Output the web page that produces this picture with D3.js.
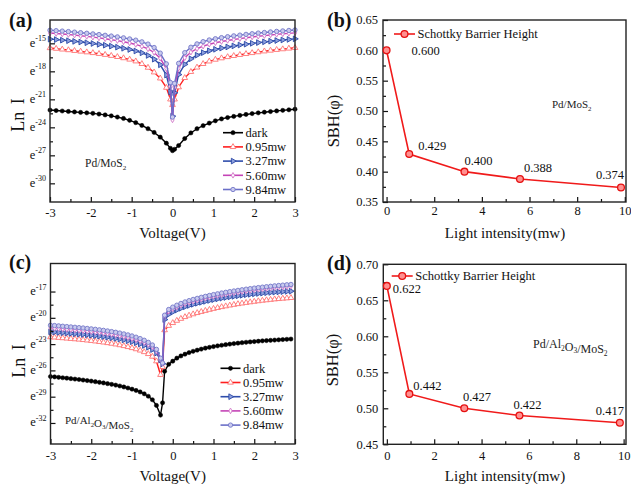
<!DOCTYPE html>
<html><head><meta charset="utf-8">
<script src="https://cdn.jsdelivr.net/npm/d3@7"></script>
<style>body{margin:0;background:#fff}svg{display:block}</style>
</head><body><svg id="c" width="631" height="484"></svg>
<script>
// ---------------- DATA ----------------
const seriesNames = ["dark","0.95mw","3.27mw","5.60mw","9.84mw"];

// Panel (a) Pd/MoS2
const voltageA = [-3.00,-2.85,-2.70,-2.55,-2.40,-2.25,-2.10,-1.95,-1.80,-1.65,-1.50,-1.35,-1.20,-1.05,-0.90,-0.75,-0.60,-0.45,-0.30,-0.15,-0.05,0,0.05,0.15,0.30,0.45,0.60,0.75,0.90,1.05,1.20,1.35,1.50,1.65,1.80,1.95,2.10,2.25,2.40,2.55,2.70,2.85,3.00];
const darkA = [-22.15,-22.20,-22.25,-22.30,-22.35,-22.40,-22.45,-22.50,-22.58,-22.67,-22.77,-22.90,-23.05,-23.25,-23.50,-23.80,-24.15,-24.55,-25.05,-25.70,-26.25,-26.50,-26.35,-25.95,-25.20,-24.60,-24.15,-23.82,-23.55,-23.30,-23.10,-22.95,-22.83,-22.72,-22.62,-22.53,-22.45,-22.38,-22.31,-22.24,-22.18,-22.12,-22.06];
const mw095A = [-15.50,-15.57,-15.65,-15.72,-15.80,-15.87,-15.95,-16.03,-16.12,-16.22,-16.33,-16.45,-16.58,-16.73,-16.92,-17.20,-17.60,-18.10,-18.75,-19.75,-21.00,-21.60,-21.00,-19.70,-18.70,-18.05,-17.58,-17.20,-16.93,-16.74,-16.59,-16.46,-16.34,-16.23,-16.13,-16.03,-15.94,-15.85,-15.77,-15.69,-15.62,-15.55,-15.48];
const mw327A = [-14.55,-14.60,-14.66,-14.72,-14.79,-14.86,-14.94,-15.02,-15.11,-15.20,-15.30,-15.41,-15.53,-15.66,-15.82,-16.02,-16.30,-16.70,-17.30,-18.40,-20.20,-22.80,-20.30,-18.35,-17.25,-16.66,-16.27,-16.00,-15.80,-15.64,-15.51,-15.39,-15.28,-15.18,-15.09,-15.00,-14.92,-14.84,-14.77,-14.70,-14.64,-14.58,-14.52];
const mw560A = [-13.90,-13.95,-14.00,-14.06,-14.12,-14.19,-14.26,-14.34,-14.42,-14.51,-14.61,-14.71,-14.83,-14.96,-15.12,-15.32,-15.60,-15.98,-16.60,-17.70,-19.60,-23.20,-19.70,-17.65,-16.55,-15.95,-15.58,-15.30,-15.10,-14.94,-14.81,-14.69,-14.59,-14.49,-14.40,-14.32,-14.24,-14.17,-14.10,-14.04,-13.98,-13.93,-13.88];
const mw984A = [-13.60,-13.64,-13.69,-13.74,-13.80,-13.86,-13.92,-13.99,-14.06,-14.14,-14.22,-14.31,-14.41,-14.53,-14.66,-14.84,-15.08,-15.45,-16.05,-17.20,-19.20,-22.90,-19.30,-17.15,-16.00,-15.42,-15.06,-14.82,-14.64,-14.51,-14.39,-14.29,-14.20,-14.12,-14.04,-13.97,-13.90,-13.84,-13.78,-13.72,-13.67,-13.62,-13.57];

// Panel (c) Pd/Al2O3/MoS2
const voltageC = [-3.0,-2.9,-2.8,-2.7,-2.6,-2.5,-2.4,-2.3,-2.2,-2.1,-2.0,-1.9,-1.8,-1.7,-1.6,-1.5,-1.4,-1.3,-1.2,-1.1,-1.0,-0.9,-0.8,-0.7,-0.6,-0.5,-0.4,-0.3,-0.25,-0.2,-0.1,0.0,0.1,0.2,0.3,0.4,0.5,0.6,0.7,0.8,0.9,1.0,1.1,1.2,1.3,1.4,1.5,1.6,1.7,1.8,1.9,2.0,2.1,2.2,2.3,2.4,2.5,2.6,2.7,2.8,2.9];
const darkC = [-26.70,-26.74,-26.79,-26.84,-26.89,-26.94,-26.99,-27.04,-27.10,-27.16,-27.22,-27.29,-27.36,-27.43,-27.51,-27.59,-27.68,-27.78,-27.89,-28.01,-28.14,-28.29,-28.46,-28.67,-28.95,-29.35,-30.00,-31.10,-29.70,-26.10,-25.30,-24.95,-24.60,-24.35,-24.15,-23.97,-23.82,-23.69,-23.57,-23.46,-23.37,-23.28,-23.20,-23.13,-23.06,-23.00,-22.94,-22.89,-22.84,-22.79,-22.75,-22.71,-22.67,-22.63,-22.60,-22.57,-22.54,-22.51,-22.48,-22.45,-22.42];
const mw095C = [-22.20,-22.23,-22.27,-22.31,-22.35,-22.39,-22.43,-22.47,-22.52,-22.57,-22.62,-22.68,-22.74,-22.80,-22.87,-22.94,-23.02,-23.11,-23.21,-23.32,-23.44,-23.57,-23.72,-23.90,-24.12,-24.42,-24.95,-26.50,-25.60,-21.40,-20.90,-20.58,-20.32,-20.10,-19.90,-19.73,-19.58,-19.44,-19.31,-19.19,-19.07,-18.96,-18.86,-18.76,-18.67,-18.58,-18.50,-18.42,-18.35,-18.28,-18.21,-18.15,-18.09,-18.03,-17.98,-17.93,-17.88,-17.84,-17.80,-17.76,-17.72];
const mw327C = [-21.60,-21.63,-21.67,-21.70,-21.74,-21.78,-21.82,-21.86,-21.90,-21.94,-21.99,-22.04,-22.09,-22.15,-22.21,-22.28,-22.35,-22.43,-22.52,-22.62,-22.73,-22.85,-22.99,-23.15,-23.36,-23.62,-24.02,-24.80,-25.25,-20.20,-19.60,-19.33,-19.11,-18.91,-18.74,-18.59,-18.46,-18.34,-18.23,-18.12,-18.02,-17.93,-17.84,-17.76,-17.68,-17.61,-17.55,-17.49,-17.43,-17.37,-17.32,-17.27,-17.22,-17.18,-17.14,-17.10,-17.07,-17.04,-17.01,-16.98,-16.96];
const mw560C = [-21.15,-21.18,-21.22,-21.26,-21.30,-21.34,-21.38,-21.42,-21.46,-21.51,-21.56,-21.61,-21.67,-21.73,-21.80,-21.87,-21.95,-22.04,-22.14,-22.25,-22.36,-22.49,-22.64,-22.82,-23.04,-23.32,-23.78,-24.70,-25.20,-19.85,-19.25,-18.98,-18.76,-18.56,-18.39,-18.24,-18.10,-17.98,-17.86,-17.75,-17.65,-17.55,-17.46,-17.37,-17.29,-17.21,-17.14,-17.07,-17.00,-16.93,-16.87,-16.81,-16.75,-16.70,-16.65,-16.60,-16.55,-16.51,-16.47,-16.43,-16.39];
const mw984C = [-20.85,-20.88,-20.92,-20.96,-21.00,-21.04,-21.08,-21.12,-21.16,-21.21,-21.26,-21.31,-21.37,-21.43,-21.50,-21.57,-21.65,-21.74,-21.84,-21.95,-22.07,-22.21,-22.37,-22.56,-22.80,-23.10,-23.60,-24.60,-25.15,-19.70,-19.05,-18.78,-18.56,-18.36,-18.19,-18.04,-17.90,-17.78,-17.66,-17.55,-17.45,-17.35,-17.26,-17.17,-17.09,-17.01,-16.94,-16.87,-16.80,-16.73,-16.67,-16.61,-16.55,-16.50,-16.45,-16.40,-16.35,-16.31,-16.27,-16.23,-16.19];

// Panels (b),(d)
const intensity = [0, 0.95, 3.27, 5.60, 9.84];
const sbhB = [0.600, 0.429, 0.400, 0.388, 0.374];
const sbhLabelsB = ["0.600","0.429","0.400","0.388","0.374"];
const sbhD = [0.670, 0.520, 0.500, 0.490, 0.480];
const sbhLabelsD = ["0.622","0.442","0.427","0.422","0.417"];

const voltTicks = [-3,-2,-1,0,1,2,3];
const lnTicksA = [-15,-18,-21,-24,-27,-30];
const lnTicksC = [-17,-20,-23,-26,-29,-32];
const intTicks = [0,2,4,6,8,10];
const sbhTicksB = [0.35,0.40,0.45,0.50,0.55,0.60,0.65];
const sbhTicksD = [0.45,0.50,0.55,0.60,0.65,0.70];

// ---------------- STYLE ----------------
const FONT = '"Liberation Serif","Times New Roman",Times,serif';
const svg = d3.select("#c").attr("font-family", FONT);
const styles = [
  {line:"#000000", stroke:"#000000", fill:"#000000", sym:"circle",  size:14, sw:0.5},
  {line:"#ff1f1f", stroke:"#ff7373", fill:"#ffffff", sym:"triangle",size:14, sw:0.9},
  {line:"#2f4dab", stroke:"#2a47a6", fill:"#8da0dd", sym:"rtri",    size:14, sw:0.9},
  {line:"#c444b6", stroke:"#d277c8", fill:"#ffffff", sym:"diamond", size:9,  sw:0.9},
  {line:"#6b70c8", stroke:"#7478c8", fill:"#c9caee", sym:"circle",  size:15, sw:0.9}
];
function symPath(st){
  const t = {circle:d3.symbolCircle, triangle:d3.symbolTriangle, rtri:d3.symbolTriangle, diamond:d3.symbolDiamond}[st.sym];
  return d3.symbol().type(t).size(st.size)();
}
function marker(g, st, px, py){
  g.append("path").attr("d", symPath(st))
    .attr("transform", `translate(${px},${py})` + (st.sym==="rtri" ? " rotate(90)" : ""))
    .attr("fill", st.fill).attr("stroke", st.stroke).attr("stroke-width", st.sw);
}
function minorBetween(ticks){
  const s = ticks.slice().sort((a,b)=>a-b), out=[];
  for(let i=0;i<s.length-1;i++) out.push((s[i]+s[i+1])/2);
  return out;
}
function axes(g, x, y, f, xt, yt, xpad, yLabelFn){
  const xa = g.append("g").attr("transform",`translate(0,${f.B})`)
    .call(d3.axisBottom(x).tickValues(xt).tickSize(-5).tickPadding(xpad).tickFormat(d=>String(d)));
  xa.select(".domain").remove();
  xa.selectAll("text").attr("font-size",12.5).attr("font-family",FONT).attr("fill","#111");
  const xm = g.append("g").attr("transform",`translate(0,${f.B})`)
    .call(d3.axisBottom(x).tickValues(minorBetween(xt)).tickSize(-3).tickFormat(""));
  xm.select(".domain").remove();
  const ya = g.append("g").attr("transform",`translate(${f.L},0)`)
    .call(d3.axisLeft(y).tickValues(yt).tickSize(-5).tickPadding(5).tickFormat(""));
  ya.select(".domain").remove();
  const ym = g.append("g").attr("transform",`translate(${f.L},0)`)
    .call(d3.axisLeft(y).tickValues(minorBetween(yt)).tickSize(-3).tickFormat(""));
  ym.select(".domain").remove();
  g.selectAll(".tick line").attr("stroke","#111").attr("stroke-width",1.2);
  yt.forEach(v=>yLabelFn(v, y(v)));
  g.append("rect").attr("x",f.L).attr("y",f.T).attr("width",f.R-f.L).attr("height",f.B-f.T)
    .attr("fill","none").attr("stroke","#222").attr("stroke-width",1.4);
}
function subText(g, x, y, size, parts, anchor){
  const t = g.append("text").attr("x",x).attr("y",y).attr("font-size",size).attr("fill","#222")
    .attr("text-anchor",anchor||"start");
  parts.forEach(p=>{
    if(p.sub){ t.append("tspan").attr("dy",2.5).attr("font-size",size*0.62).text(p.t); t.append("tspan").attr("dy",-2.5).text(""); }
    else t.append("tspan").text(p.t);
  });
}

// ---------------- IV PANEL ----------------
function ivPanel(o){
  const f=o.frame, g=svg.append("g");
  const x=d3.scaleLinear().domain(o.xDomain).range([f.L,f.R]);
  const y=d3.scaleLinear().domain(o.yDomain).range([f.B,f.T]);
  o.series.forEach((vals,i)=>{
    const st=styles[i];
    const pts=o.V.map((v,j)=>[v,vals[j]]);
    g.append("path").attr("d", d3.line().x(d=>x(d[0])).y(d=>y(d[1]))(pts))
      .attr("fill","none").attr("stroke",st.line).attr("stroke-width",1.4);
    pts.forEach(d=>marker(g, st, x(d[0]), y(d[1])));
  });
  axes(g, x, y, f, voltTicks, o.yTicks, o.xpad, (v,py)=>{
    const t=g.append("text").attr("x",f.L-4).attr("y",py+3.5).attr("text-anchor","end")
      .attr("font-size",12.5).attr("fill","#111");
    t.append("tspan").text("e");
    t.append("tspan").attr("dy",-5.5).attr("font-size",8).text(String(v));
  });
  // legend
  o.series.forEach((vals,i)=>{
    const st=styles[i], ly=o.leg.y + i*o.leg.dy;
    g.append("line").attr("x1",o.leg.x).attr("x2",o.leg.x+20).attr("y1",ly).attr("y2",ly)
      .attr("stroke",st.line).attr("stroke-width",1.6);
    marker(g, st, o.leg.x+10, ly);
    g.append("text").attr("x",o.leg.x+22.5).attr("y",ly+4.3).attr("font-size",12.5).attr("fill","#111").text(seriesNames[i]);
  });
  subText(g, o.sample.x, o.sample.y, o.sample.size, o.sample.parts);
  g.append("text").attr("x",(f.L+f.R)/2).attr("y",o.xLabelY).attr("text-anchor","middle")
    .attr("font-size",15).attr("fill","#111").text("Voltage(V)");
  g.append("text").attr("transform",`translate(${o.yLabel.x},${o.yLabel.y}) rotate(-90)`).attr("text-anchor","middle")
    .attr("font-size",18).attr("word-spacing",3).attr("fill","#111").text("Ln I");
  g.append("text").attr("x",o.tag.x).attr("y",o.tag.y).attr("font-size",20).attr("font-weight","bold").attr("fill","#111").text(o.tag.t);
}

// ---------------- SBH PANEL ----------------
function sbhPanel(o){
  const f=o.frame, g=svg.append("g");
  const x=d3.scaleLinear().domain(o.xDomain).range([f.L,f.R]);
  const y=d3.scaleLinear().domain(o.yDomain).range([f.B,f.T]);
  const pts=intensity.map((v,j)=>[v,o.vals[j]]);
  axes(g, x, y, f, intTicks, o.yTicks, o.xpad, (v,py)=>{
    g.append("text").attr("x",f.L-5).attr("y",py+4.3).attr("text-anchor","end")
      .attr("font-size",12.5).attr("fill","#111").text(d3.format(".2f")(v));
  });
  g.append("path").attr("d", d3.line().x(d=>x(d[0])).y(d=>y(d[1]))(pts))
    .attr("fill","none").attr("stroke","#f01a1a").attr("stroke-width",1.6);
  const mk = (px,py)=>{
    g.append("circle").attr("cx",px).attr("cy",py).attr("r",3.4).attr("fill","#ff9090").attr("stroke","#e51010").attr("stroke-width",1.3);
  };
  pts.forEach(d=>mk(x(d[0]),y(d[1])));
  pts.forEach((d,j)=>{
    const off=o.labelOff[j];
    g.append("text").attr("x",x(d[0])+off[0]).attr("y",y(d[1])+off[1]).attr("text-anchor",off[2])
      .attr("font-size",12.5).attr("fill","#111").text(o.labels[j]);
  });
  // legend
  g.append("line").attr("x1",o.leg.x).attr("x2",o.leg.x+21).attr("y1",o.leg.y).attr("y2",o.leg.y)
    .attr("stroke","#f01a1a").attr("stroke-width",1.6);
  mk(o.leg.x+10.5, o.leg.y);
  g.append("text").attr("x",o.leg.x+23.5).attr("y",o.leg.y+4.3).attr("font-size",12.5).attr("fill","#111").text("Schottky Barrier Height");
  subText(g, o.sample.x, o.sample.y, o.sample.size, o.sample.parts);
  g.append("text").attr("x",505).attr("y",o.xLabelY).attr("text-anchor","middle")
    .attr("font-size",15).attr("fill","#111").text("Light intensity(mw)");
  g.append("text").attr("transform",`translate(${o.yLabel.x},${o.yLabel.y}) rotate(-90)`).attr("text-anchor","middle")
    .attr("font-size",16.5).attr("fill","#111").text("SBH(\u03C6)");
  g.append("text").attr("x",o.tag.x).attr("y",o.tag.y).attr("font-size",20).attr("font-weight","bold").attr("fill","#111").text(o.tag.t);
}

ivPanel({
  frame:{L:50,R:295,T:20,B:202}, xDomain:[-3,3], yDomain:[-32,-12.5], yTicks:lnTicksA, xpad:6,
  V:voltageA, series:[darkA,mw095A,mw327A,mw560A,mw984A],
  leg:{x:223,y:132.7,dy:14.2},
  sample:{x:85,y:167,size:11.5,parts:[{t:"Pd/MoS"},{t:"2",sub:true}]},
  xLabelY:237.5, yLabel:{x:24,y:115}, tag:{x:9,y:27,t:"(a)"}
});
ivPanel({
  frame:{L:50.5,R:295,T:263.5,B:444}, xDomain:[-3,3], yDomain:[-34.4,-13.8], yTicks:lnTicksC, xpad:7,
  V:voltageC, series:[darkC,mw095C,mw327C,mw560C,mw984C],
  leg:{x:220.5,y:368.3,dy:14.2},
  sample:{x:65,y:424,size:11,parts:[{t:"Pd/Al"},{t:"2",sub:true},{t:"O"},{t:"3",sub:true},{t:"/MoS"},{t:"2",sub:true}]},
  xLabelY:480.5, yLabel:{x:25,y:361}, tag:{x:9,y:269,t:"(c)"}
});
sbhPanel({
  frame:{L:383,R:626,T:20,B:202}, xDomain:[-0.15,10.05], yDomain:[0.35,0.65], yTicks:sbhTicksB, xpad:4,
  vals:sbhB, labels:sbhLabelsB,
  labelOff:[[25,5,"start"],[23,-4,"middle"],[14,-7,"middle"],[18,-6.5,"middle"],[-11,-8.4,"middle"]],
  leg:{x:394,y:34},
  sample:{x:552,y:108,size:11,parts:[{t:"Pd/MoS"},{t:"2",sub:true}]},
  xLabelY:237.5, yLabel:{x:339,y:121}, tag:{x:327,y:27,t:"(b)"}
});
sbhPanel({
  frame:{L:383.3,R:626,T:264.3,B:444.3}, xDomain:[-0.15,10.1], yDomain:[0.45,0.70], yTicks:sbhTicksD, xpad:6.5,
  vals:sbhD, labels:sbhLabelsD,
  labelOff:[[6,7,"start"],[18,-4,"middle"],[12.7,-7,"middle"],[8,-7,"middle"],[-10,-8,"middle"]],
  leg:{x:391.7,y:276},
  sample:{x:533,y:348,size:12,parts:[{t:"Pd/Al"},{t:"2",sub:true},{t:"O"},{t:"3",sub:true},{t:"/MoS"},{t:"2",sub:true}]},
  xLabelY:480.5, yLabel:{x:338,y:360}, tag:{x:327,y:270,t:"(d)"}
});
</script></body></html>
